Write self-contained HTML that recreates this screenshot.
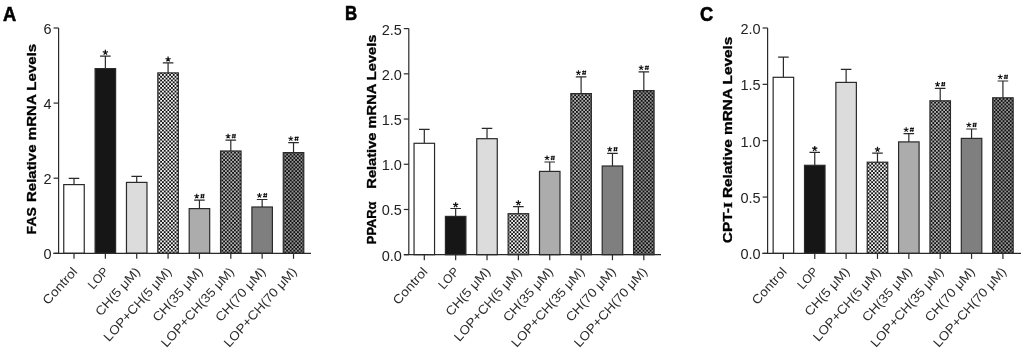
<!DOCTYPE html>
<html><head><meta charset="utf-8"><style>
html,body{margin:0;padding:0;background:#fff;width:1024px;height:357px;overflow:hidden}
svg{display:block;filter:blur(0.4px)}
text{font-family:"Liberation Sans", sans-serif;fill:#222}
</style></head><body>
<svg width="1024" height="357" viewBox="0 0 1024 357">
<defs>
<pattern id="p1" width="3.6" height="3.7" patternUnits="userSpaceOnUse"><rect width="3.6" height="3.7" fill="#f4f4f4"/><rect width="1.8" height="1.85" fill="#111"/><rect x="1.8" y="1.85" width="1.8" height="1.85" fill="#111"/></pattern>
<pattern id="p2" width="3.6" height="3.7" patternUnits="userSpaceOnUse"><rect width="3.6" height="3.7" fill="#b4b4b4"/><rect width="1.8" height="1.85" fill="#111"/><rect x="1.8" y="1.85" width="1.8" height="1.85" fill="#111"/></pattern>
<pattern id="p3" width="3.6" height="3.7" patternUnits="userSpaceOnUse"><rect width="3.6" height="3.7" fill="#939393"/><rect width="1.8" height="1.85" fill="#111"/><rect x="1.8" y="1.85" width="1.8" height="1.85" fill="#111"/></pattern>
</defs>
<rect width="1024" height="357" fill="#fff"/>

<text transform="translate(3.1,20.8) scale(0.9,1)" font-size="20.3" font-weight="bold" style="fill:#000;stroke:#000;stroke-width:0.6">A</text>
<path d="M74.00 178.3V184.6M68.70 178.3H79.30" stroke="#2a2a2a" stroke-width="1.2" fill="none"/>
<rect x="63.75" y="184.6" width="20.5" height="68.70" fill="#ffffff" stroke="#2a2a2a" stroke-width="1.2"/>
<text transform="translate(78.10,272.1) rotate(-48)" font-size="12.6" text-anchor="end" textLength="45.1" lengthAdjust="spacingAndGlyphs" style="fill:#2c2c2c">Control</text>
<path d="M105.36 56.1V68.6M100.06 56.1H110.66" stroke="#2a2a2a" stroke-width="1.2" fill="none"/>
<rect x="95.11" y="68.6" width="20.5" height="184.70" fill="#161616" stroke="#2a2a2a" stroke-width="1.2"/>
<path d="M105.36 52.50L105.36 49.80M105.36 52.50L107.93 51.67M105.36 52.50L106.95 54.68M105.36 52.50L103.77 54.68M105.36 52.50L102.79 51.67" stroke="#111" stroke-width="1.25" fill="none"/>
<text transform="translate(109.46,272.1) rotate(-48)" font-size="12.6" text-anchor="end" textLength="24.1" lengthAdjust="spacingAndGlyphs" style="fill:#2c2c2c">LOP</text>
<path d="M136.72 176.3V182.4M131.42 176.3H142.02" stroke="#2a2a2a" stroke-width="1.2" fill="none"/>
<rect x="126.47" y="182.4" width="20.5" height="70.90" fill="#dcdcdc" stroke="#2a2a2a" stroke-width="1.2"/>
<text transform="translate(140.82,272.1) rotate(-48)" font-size="12.6" text-anchor="end" textLength="60.0" lengthAdjust="spacingAndGlyphs" style="fill:#2c2c2c">CH(5 μM)</text>
<path d="M168.08 62.9V72.9M162.78 62.9H173.38" stroke="#2a2a2a" stroke-width="1.2" fill="none"/>
<rect x="157.83" y="72.9" width="20.5" height="180.40" fill="url(#p1)" stroke="#2a2a2a" stroke-width="1.2"/>
<path d="M168.08 59.30L168.08 56.60M168.08 59.30L170.65 58.47M168.08 59.30L169.67 61.48M168.08 59.30L166.49 61.48M168.08 59.30L165.51 58.47" stroke="#111" stroke-width="1.25" fill="none"/>
<text transform="translate(172.18,272.1) rotate(-48)" font-size="12.6" text-anchor="end" textLength="94.3" lengthAdjust="spacingAndGlyphs" style="fill:#2c2c2c">LOP+CH(5 μM)</text>
<path d="M199.44 200.2V208.6M194.14 200.2H204.74" stroke="#2a2a2a" stroke-width="1.2" fill="none"/>
<rect x="189.19" y="208.6" width="20.5" height="44.70" fill="#acacac" stroke="#2a2a2a" stroke-width="1.2"/>
<path d="M196.74 196.20L196.74 193.70M196.74 196.20L199.12 195.43M196.74 196.20L198.21 198.22M196.74 196.20L195.27 198.22M196.74 196.20L194.36 195.43" stroke="#111" stroke-width="1.1" fill="none"/><path d="M201.24 198.30L201.84 193.90M203.24 198.30L203.84 193.90M200.54 195.00L204.54 195.00M200.34 197.20L204.34 197.20" stroke="#111" stroke-width="1.0" fill="none"/>
<text transform="translate(203.54,272.1) rotate(-48)" font-size="12.6" text-anchor="end" textLength="67.9" lengthAdjust="spacingAndGlyphs" style="fill:#2c2c2c">CH(35 μM)</text>
<path d="M230.80 140.2V151M225.50 140.2H236.10" stroke="#2a2a2a" stroke-width="1.2" fill="none"/>
<rect x="220.55" y="151" width="20.5" height="102.30" fill="url(#p2)" stroke="#2a2a2a" stroke-width="1.2"/>
<path d="M228.10 136.20L228.10 133.70M228.10 136.20L230.48 135.43M228.10 136.20L229.57 138.22M228.10 136.20L226.63 138.22M228.10 136.20L225.72 135.43" stroke="#111" stroke-width="1.1" fill="none"/><path d="M232.60 138.30L233.20 133.90M234.60 138.30L235.20 133.90M231.90 135.00L235.90 135.00M231.70 137.20L235.70 137.20" stroke="#111" stroke-width="1.0" fill="none"/>
<text transform="translate(234.90,272.1) rotate(-48)" font-size="12.6" text-anchor="end" textLength="102.2" lengthAdjust="spacingAndGlyphs" style="fill:#2c2c2c">LOP+CH(35 μM)</text>
<path d="M262.16 199.5V207M256.86 199.5H267.46" stroke="#2a2a2a" stroke-width="1.2" fill="none"/>
<rect x="251.91" y="207" width="20.5" height="46.30" fill="#7f7f7f" stroke="#2a2a2a" stroke-width="1.2"/>
<path d="M259.46 195.50L259.46 193.00M259.46 195.50L261.84 194.73M259.46 195.50L260.93 197.52M259.46 195.50L257.99 197.52M259.46 195.50L257.08 194.73" stroke="#111" stroke-width="1.1" fill="none"/><path d="M263.96 197.60L264.56 193.20M265.96 197.60L266.56 193.20M263.26 194.30L267.26 194.30M263.06 196.50L267.06 196.50" stroke="#111" stroke-width="1.0" fill="none"/>
<text transform="translate(266.26,272.1) rotate(-48)" font-size="12.6" text-anchor="end" textLength="67.9" lengthAdjust="spacingAndGlyphs" style="fill:#2c2c2c">CH(70 μM)</text>
<path d="M293.52 142.7V152.6M288.22 142.7H298.82" stroke="#2a2a2a" stroke-width="1.2" fill="none"/>
<rect x="283.27" y="152.6" width="20.5" height="100.70" fill="url(#p3)" stroke="#2a2a2a" stroke-width="1.2"/>
<path d="M290.82 138.70L290.82 136.20M290.82 138.70L293.20 137.93M290.82 138.70L292.29 140.72M290.82 138.70L289.35 140.72M290.82 138.70L288.44 137.93" stroke="#111" stroke-width="1.1" fill="none"/><path d="M295.32 140.80L295.92 136.40M297.32 140.80L297.92 136.40M294.62 137.50L298.62 137.50M294.42 139.70L298.42 139.70" stroke="#111" stroke-width="1.0" fill="none"/>
<text transform="translate(297.62,272.1) rotate(-48)" font-size="12.6" text-anchor="end" textLength="102.2" lengthAdjust="spacingAndGlyphs" style="fill:#2c2c2c">LOP+CH(70 μM)</text>
<g stroke="#2a2a2a" stroke-width="1.2" fill="none">
<line x1="58.6" y1="28" x2="58.6" y2="253.3"/>
<line x1="53.4" y1="253.3" x2="311" y2="253.3"/>
<line x1="53.6" y1="253.30" x2="58.6" y2="253.30"/>
<line x1="53.6" y1="178.20" x2="58.6" y2="178.20"/>
<line x1="53.6" y1="103.10" x2="58.6" y2="103.10"/>
<line x1="53.6" y1="28.00" x2="58.6" y2="28.00"/>
<line x1="74.00" y1="253.3" x2="74.00" y2="258.8"/>
<line x1="105.36" y1="253.3" x2="105.36" y2="258.8"/>
<line x1="136.72" y1="253.3" x2="136.72" y2="258.8"/>
<line x1="168.08" y1="253.3" x2="168.08" y2="258.8"/>
<line x1="199.44" y1="253.3" x2="199.44" y2="258.8"/>
<line x1="230.80" y1="253.3" x2="230.80" y2="258.8"/>
<line x1="262.16" y1="253.3" x2="262.16" y2="258.8"/>
<line x1="293.52" y1="253.3" x2="293.52" y2="258.8"/>
</g>
<text x="51.6" y="259.30" font-size="14.5" text-anchor="end">0</text>
<text x="51.6" y="184.20" font-size="14.5" text-anchor="end">2</text>
<text x="51.6" y="109.10" font-size="14.5" text-anchor="end">4</text>
<text x="51.6" y="34.00" font-size="14.5" text-anchor="end">6</text>
<text transform="translate(35.7,234.40) rotate(-90)" font-size="12.4" font-weight="bold" textLength="27.4" lengthAdjust="spacingAndGlyphs" style="fill:#000;stroke:#000;stroke-width:0.3">FAS</text>
<text transform="translate(35.7,202.10) rotate(-90)" font-size="12.4" font-weight="bold" textLength="158.3" lengthAdjust="spacingAndGlyphs" style="fill:#000;stroke:#000;stroke-width:0.3">Relative mRNA Levels</text>
<text transform="translate(344.9,20.3) scale(0.83,1)" font-size="20.3" font-weight="bold" style="fill:#000;stroke:#000;stroke-width:0.6">B</text>
<path d="M424.30 129.3V143.3M419.00 129.3H429.60" stroke="#2a2a2a" stroke-width="1.2" fill="none"/>
<rect x="414.05" y="143.3" width="20.5" height="111.40" fill="#ffffff" stroke="#2a2a2a" stroke-width="1.2"/>
<text transform="translate(428.40,272.1) rotate(-48)" font-size="12.6" text-anchor="end" textLength="45.1" lengthAdjust="spacingAndGlyphs" style="fill:#2c2c2c">Control</text>
<path d="M455.66 208.5V216.4M450.36 208.5H460.96" stroke="#2a2a2a" stroke-width="1.2" fill="none"/>
<rect x="445.41" y="216.4" width="20.5" height="38.30" fill="#161616" stroke="#2a2a2a" stroke-width="1.2"/>
<path d="M455.66 204.90L455.66 202.20M455.66 204.90L458.23 204.07M455.66 204.90L457.25 207.08M455.66 204.90L454.07 207.08M455.66 204.90L453.09 204.07" stroke="#111" stroke-width="1.25" fill="none"/>
<text transform="translate(459.76,272.1) rotate(-48)" font-size="12.6" text-anchor="end" textLength="24.1" lengthAdjust="spacingAndGlyphs" style="fill:#2c2c2c">LOP</text>
<path d="M487.02 128.3V138.7M481.72 128.3H492.32" stroke="#2a2a2a" stroke-width="1.2" fill="none"/>
<rect x="476.77" y="138.7" width="20.5" height="116.00" fill="#dcdcdc" stroke="#2a2a2a" stroke-width="1.2"/>
<text transform="translate(491.12,272.1) rotate(-48)" font-size="12.6" text-anchor="end" textLength="60.0" lengthAdjust="spacingAndGlyphs" style="fill:#2c2c2c">CH(5 μM)</text>
<path d="M518.38 206.6V213.7M513.08 206.6H523.68" stroke="#2a2a2a" stroke-width="1.2" fill="none"/>
<rect x="508.13" y="213.7" width="20.5" height="41.00" fill="url(#p1)" stroke="#2a2a2a" stroke-width="1.2"/>
<path d="M518.38 203.00L518.38 200.30M518.38 203.00L520.95 202.17M518.38 203.00L519.97 205.18M518.38 203.00L516.79 205.18M518.38 203.00L515.81 202.17" stroke="#111" stroke-width="1.25" fill="none"/>
<text transform="translate(522.48,272.1) rotate(-48)" font-size="12.6" text-anchor="end" textLength="94.3" lengthAdjust="spacingAndGlyphs" style="fill:#2c2c2c">LOP+CH(5 μM)</text>
<path d="M549.74 162V171.4M544.44 162H555.04" stroke="#2a2a2a" stroke-width="1.2" fill="none"/>
<rect x="539.49" y="171.4" width="20.5" height="83.30" fill="#acacac" stroke="#2a2a2a" stroke-width="1.2"/>
<path d="M547.04 158.00L547.04 155.50M547.04 158.00L549.42 157.23M547.04 158.00L548.51 160.02M547.04 158.00L545.57 160.02M547.04 158.00L544.66 157.23" stroke="#111" stroke-width="1.1" fill="none"/><path d="M551.54 160.10L552.14 155.70M553.54 160.10L554.14 155.70M550.84 156.80L554.84 156.80M550.64 159.00L554.64 159.00" stroke="#111" stroke-width="1.0" fill="none"/>
<text transform="translate(553.84,272.1) rotate(-48)" font-size="12.6" text-anchor="end" textLength="67.9" lengthAdjust="spacingAndGlyphs" style="fill:#2c2c2c">CH(35 μM)</text>
<path d="M581.10 76.8V93.6M575.80 76.8H586.40" stroke="#2a2a2a" stroke-width="1.2" fill="none"/>
<rect x="570.85" y="93.6" width="20.5" height="161.10" fill="url(#p2)" stroke="#2a2a2a" stroke-width="1.2"/>
<path d="M578.40 72.80L578.40 70.30M578.40 72.80L580.78 72.03M578.40 72.80L579.87 74.82M578.40 72.80L576.93 74.82M578.40 72.80L576.02 72.03" stroke="#111" stroke-width="1.1" fill="none"/><path d="M582.90 74.90L583.50 70.50M584.90 74.90L585.50 70.50M582.20 71.60L586.20 71.60M582.00 73.80L586.00 73.80" stroke="#111" stroke-width="1.0" fill="none"/>
<text transform="translate(585.20,272.1) rotate(-48)" font-size="12.6" text-anchor="end" textLength="102.2" lengthAdjust="spacingAndGlyphs" style="fill:#2c2c2c">LOP+CH(35 μM)</text>
<path d="M612.46 153.3V166M607.16 153.3H617.76" stroke="#2a2a2a" stroke-width="1.2" fill="none"/>
<rect x="602.21" y="166" width="20.5" height="88.70" fill="#7f7f7f" stroke="#2a2a2a" stroke-width="1.2"/>
<path d="M609.76 149.30L609.76 146.80M609.76 149.30L612.14 148.53M609.76 149.30L611.23 151.32M609.76 149.30L608.29 151.32M609.76 149.30L607.38 148.53" stroke="#111" stroke-width="1.1" fill="none"/><path d="M614.26 151.40L614.86 147.00M616.26 151.40L616.86 147.00M613.56 148.10L617.56 148.10M613.36 150.30L617.36 150.30" stroke="#111" stroke-width="1.0" fill="none"/>
<text transform="translate(616.56,272.1) rotate(-48)" font-size="12.6" text-anchor="end" textLength="67.9" lengthAdjust="spacingAndGlyphs" style="fill:#2c2c2c">CH(70 μM)</text>
<path d="M643.82 71.8V90.6M638.52 71.8H649.12" stroke="#2a2a2a" stroke-width="1.2" fill="none"/>
<rect x="633.57" y="90.6" width="20.5" height="164.10" fill="url(#p3)" stroke="#2a2a2a" stroke-width="1.2"/>
<path d="M641.12 67.80L641.12 65.30M641.12 67.80L643.50 67.03M641.12 67.80L642.59 69.82M641.12 67.80L639.65 69.82M641.12 67.80L638.74 67.03" stroke="#111" stroke-width="1.1" fill="none"/><path d="M645.62 69.90L646.22 65.50M647.62 69.90L648.22 65.50M644.92 66.60L648.92 66.60M644.72 68.80L648.72 68.80" stroke="#111" stroke-width="1.0" fill="none"/>
<text transform="translate(647.92,272.1) rotate(-48)" font-size="12.6" text-anchor="end" textLength="102.2" lengthAdjust="spacingAndGlyphs" style="fill:#2c2c2c">LOP+CH(70 μM)</text>
<g stroke="#2a2a2a" stroke-width="1.2" fill="none">
<line x1="408.8" y1="28.6" x2="408.8" y2="254.7"/>
<line x1="403.9" y1="254.7" x2="661" y2="254.7"/>
<line x1="403.8" y1="254.70" x2="408.8" y2="254.70"/>
<line x1="403.8" y1="209.48" x2="408.8" y2="209.48"/>
<line x1="403.8" y1="164.26" x2="408.8" y2="164.26"/>
<line x1="403.8" y1="119.04" x2="408.8" y2="119.04"/>
<line x1="403.8" y1="73.82" x2="408.8" y2="73.82"/>
<line x1="403.8" y1="28.60" x2="408.8" y2="28.60"/>
<line x1="424.30" y1="254.7" x2="424.30" y2="260.2"/>
<line x1="455.66" y1="254.7" x2="455.66" y2="260.2"/>
<line x1="487.02" y1="254.7" x2="487.02" y2="260.2"/>
<line x1="518.38" y1="254.7" x2="518.38" y2="260.2"/>
<line x1="549.74" y1="254.7" x2="549.74" y2="260.2"/>
<line x1="581.10" y1="254.7" x2="581.10" y2="260.2"/>
<line x1="612.46" y1="254.7" x2="612.46" y2="260.2"/>
<line x1="643.82" y1="254.7" x2="643.82" y2="260.2"/>
</g>
<text x="401.8" y="260.70" font-size="14.5" text-anchor="end">0.0</text>
<text x="401.8" y="215.48" font-size="14.5" text-anchor="end">0.5</text>
<text x="401.8" y="170.26" font-size="14.5" text-anchor="end">1.0</text>
<text x="401.8" y="125.04" font-size="14.5" text-anchor="end">1.5</text>
<text x="401.8" y="79.82" font-size="14.5" text-anchor="end">2.0</text>
<text x="401.8" y="34.60" font-size="14.5" text-anchor="end">2.5</text>
<text transform="translate(375.8,244.20) rotate(-90)" font-size="12.4" font-weight="bold" textLength="42.7" lengthAdjust="spacingAndGlyphs" style="fill:#000;stroke:#000;stroke-width:0.3">PPARα</text>
<text transform="translate(375.8,188.70) rotate(-90)" font-size="12.4" font-weight="bold" textLength="154.1" lengthAdjust="spacingAndGlyphs" style="fill:#000;stroke:#000;stroke-width:0.3">Relative mRNA Levels</text>
<text transform="translate(700.0,21.2) scale(0.9,1)" font-size="20.3" font-weight="bold" style="fill:#000;stroke:#000;stroke-width:0.6">C</text>
<path d="M783.40 57.1V77.3M778.10 57.1H788.70" stroke="#2a2a2a" stroke-width="1.2" fill="none"/>
<rect x="773.15" y="77.3" width="20.5" height="176.10" fill="#ffffff" stroke="#2a2a2a" stroke-width="1.2"/>
<text transform="translate(787.50,272.1) rotate(-48)" font-size="12.6" text-anchor="end" textLength="45.1" lengthAdjust="spacingAndGlyphs" style="fill:#2c2c2c">Control</text>
<path d="M814.76 152.3V165.3M809.46 152.3H820.06" stroke="#2a2a2a" stroke-width="1.2" fill="none"/>
<rect x="804.51" y="165.3" width="20.5" height="88.10" fill="#161616" stroke="#2a2a2a" stroke-width="1.2"/>
<path d="M814.76 148.70L814.76 146.00M814.76 148.70L817.33 147.87M814.76 148.70L816.35 150.88M814.76 148.70L813.17 150.88M814.76 148.70L812.19 147.87" stroke="#111" stroke-width="1.25" fill="none"/>
<text transform="translate(818.86,272.1) rotate(-48)" font-size="12.6" text-anchor="end" textLength="24.1" lengthAdjust="spacingAndGlyphs" style="fill:#2c2c2c">LOP</text>
<path d="M846.12 69.4V82.4M840.82 69.4H851.42" stroke="#2a2a2a" stroke-width="1.2" fill="none"/>
<rect x="835.87" y="82.4" width="20.5" height="171.00" fill="#dcdcdc" stroke="#2a2a2a" stroke-width="1.2"/>
<text transform="translate(850.22,272.1) rotate(-48)" font-size="12.6" text-anchor="end" textLength="60.0" lengthAdjust="spacingAndGlyphs" style="fill:#2c2c2c">CH(5 μM)</text>
<path d="M877.48 153.1V162.2M872.18 153.1H882.78" stroke="#2a2a2a" stroke-width="1.2" fill="none"/>
<rect x="867.23" y="162.2" width="20.5" height="91.20" fill="url(#p1)" stroke="#2a2a2a" stroke-width="1.2"/>
<path d="M877.48 149.50L877.48 146.80M877.48 149.50L880.05 148.67M877.48 149.50L879.07 151.68M877.48 149.50L875.89 151.68M877.48 149.50L874.91 148.67" stroke="#111" stroke-width="1.25" fill="none"/>
<text transform="translate(881.58,272.1) rotate(-48)" font-size="12.6" text-anchor="end" textLength="94.3" lengthAdjust="spacingAndGlyphs" style="fill:#2c2c2c">LOP+CH(5 μM)</text>
<path d="M908.84 133.7V141.9M903.54 133.7H914.14" stroke="#2a2a2a" stroke-width="1.2" fill="none"/>
<rect x="898.59" y="141.9" width="20.5" height="111.50" fill="#acacac" stroke="#2a2a2a" stroke-width="1.2"/>
<path d="M906.14 129.70L906.14 127.20M906.14 129.70L908.52 128.93M906.14 129.70L907.61 131.72M906.14 129.70L904.67 131.72M906.14 129.70L903.76 128.93" stroke="#111" stroke-width="1.1" fill="none"/><path d="M910.64 131.80L911.24 127.40M912.64 131.80L913.24 127.40M909.94 128.50L913.94 128.50M909.74 130.70L913.74 130.70" stroke="#111" stroke-width="1.0" fill="none"/>
<text transform="translate(912.94,272.1) rotate(-48)" font-size="12.6" text-anchor="end" textLength="67.9" lengthAdjust="spacingAndGlyphs" style="fill:#2c2c2c">CH(35 μM)</text>
<path d="M940.20 88.3V100.8M934.90 88.3H945.50" stroke="#2a2a2a" stroke-width="1.2" fill="none"/>
<rect x="929.95" y="100.8" width="20.5" height="152.60" fill="url(#p2)" stroke="#2a2a2a" stroke-width="1.2"/>
<path d="M937.50 84.30L937.50 81.80M937.50 84.30L939.88 83.53M937.50 84.30L938.97 86.32M937.50 84.30L936.03 86.32M937.50 84.30L935.12 83.53" stroke="#111" stroke-width="1.1" fill="none"/><path d="M942.00 86.40L942.60 82.00M944.00 86.40L944.60 82.00M941.30 83.10L945.30 83.10M941.10 85.30L945.10 85.30" stroke="#111" stroke-width="1.0" fill="none"/>
<text transform="translate(944.30,272.1) rotate(-48)" font-size="12.6" text-anchor="end" textLength="102.2" lengthAdjust="spacingAndGlyphs" style="fill:#2c2c2c">LOP+CH(35 μM)</text>
<path d="M971.56 129V138.4M966.26 129H976.86" stroke="#2a2a2a" stroke-width="1.2" fill="none"/>
<rect x="961.31" y="138.4" width="20.5" height="115.00" fill="#7f7f7f" stroke="#2a2a2a" stroke-width="1.2"/>
<path d="M968.86 125.00L968.86 122.50M968.86 125.00L971.24 124.23M968.86 125.00L970.33 127.02M968.86 125.00L967.39 127.02M968.86 125.00L966.48 124.23" stroke="#111" stroke-width="1.1" fill="none"/><path d="M973.36 127.10L973.96 122.70M975.36 127.10L975.96 122.70M972.66 123.80L976.66 123.80M972.46 126.00L976.46 126.00" stroke="#111" stroke-width="1.0" fill="none"/>
<text transform="translate(975.66,272.1) rotate(-48)" font-size="12.6" text-anchor="end" textLength="67.9" lengthAdjust="spacingAndGlyphs" style="fill:#2c2c2c">CH(70 μM)</text>
<path d="M1002.92 81V97.8M997.62 81H1008.22" stroke="#2a2a2a" stroke-width="1.2" fill="none"/>
<rect x="992.67" y="97.8" width="20.5" height="155.60" fill="url(#p3)" stroke="#2a2a2a" stroke-width="1.2"/>
<path d="M1000.22 77.00L1000.22 74.50M1000.22 77.00L1002.60 76.23M1000.22 77.00L1001.69 79.02M1000.22 77.00L998.75 79.02M1000.22 77.00L997.84 76.23" stroke="#111" stroke-width="1.1" fill="none"/><path d="M1004.72 79.10L1005.32 74.70M1006.72 79.10L1007.32 74.70M1004.02 75.80L1008.02 75.80M1003.82 78.00L1007.82 78.00" stroke="#111" stroke-width="1.0" fill="none"/>
<text transform="translate(1007.02,272.1) rotate(-48)" font-size="12.6" text-anchor="end" textLength="102.2" lengthAdjust="spacingAndGlyphs" style="fill:#2c2c2c">LOP+CH(70 μM)</text>
<g stroke="#2a2a2a" stroke-width="1.2" fill="none">
<line x1="767.6" y1="28" x2="767.6" y2="253.4"/>
<line x1="762.4" y1="253.4" x2="1021" y2="253.4"/>
<line x1="762.6" y1="253.40" x2="767.6" y2="253.40"/>
<line x1="762.6" y1="197.05" x2="767.6" y2="197.05"/>
<line x1="762.6" y1="140.70" x2="767.6" y2="140.70"/>
<line x1="762.6" y1="84.35" x2="767.6" y2="84.35"/>
<line x1="762.6" y1="28.00" x2="767.6" y2="28.00"/>
<line x1="783.40" y1="253.4" x2="783.40" y2="258.9"/>
<line x1="814.76" y1="253.4" x2="814.76" y2="258.9"/>
<line x1="846.12" y1="253.4" x2="846.12" y2="258.9"/>
<line x1="877.48" y1="253.4" x2="877.48" y2="258.9"/>
<line x1="908.84" y1="253.4" x2="908.84" y2="258.9"/>
<line x1="940.20" y1="253.4" x2="940.20" y2="258.9"/>
<line x1="971.56" y1="253.4" x2="971.56" y2="258.9"/>
<line x1="1002.92" y1="253.4" x2="1002.92" y2="258.9"/>
</g>
<text x="760.6" y="259.40" font-size="14.5" text-anchor="end">0.0</text>
<text x="760.6" y="203.05" font-size="14.5" text-anchor="end">0.5</text>
<text x="760.6" y="146.70" font-size="14.5" text-anchor="end">1.0</text>
<text x="760.6" y="90.35" font-size="14.5" text-anchor="end">1.5</text>
<text x="760.6" y="34.00" font-size="14.5" text-anchor="end">2.0</text>
<text transform="translate(732.2,243.20) rotate(-90)" font-size="12.4" font-weight="bold" textLength="41.2" lengthAdjust="spacingAndGlyphs" style="fill:#000;stroke:#000;stroke-width:0.3">CPT-<tspan font-family="Liberation Serif">I</tspan></text>
<text transform="translate(732.2,198.10) rotate(-90)" font-size="12.4" font-weight="bold" textLength="161.5" lengthAdjust="spacingAndGlyphs" style="fill:#000;stroke:#000;stroke-width:0.3">Relative mRNA Levels</text>
</svg></body></html>
